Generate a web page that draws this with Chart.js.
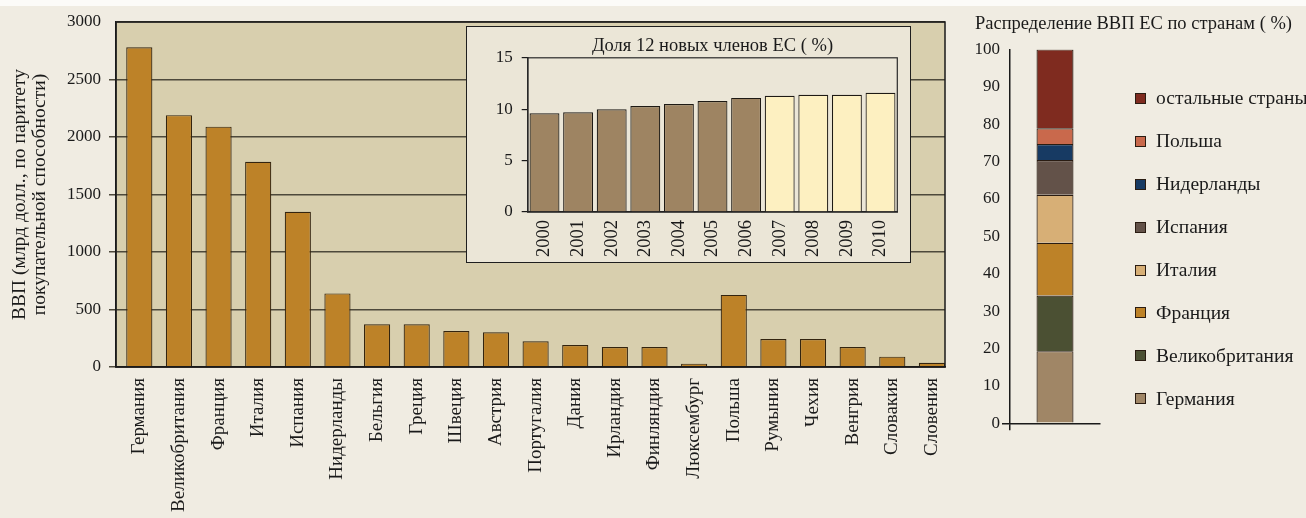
<!DOCTYPE html>
<html>
<head>
<meta charset="utf-8">
<script src="https://cdn.jsdelivr.net/npm/chart.js@4.4.1/dist/chart.umd.min.js"></script>
<style>
  html, body { margin:0; padding:0; width:1306px; height:518px; overflow:hidden; background:#f0ece2; }
  #topband { position:absolute; left:0; top:0; width:1306px; height:6px; background:#fcfbf8; }
  #mainWrap { position:absolute; left:0; top:0; width:960px; height:518px; }
  #insetWrap { position:absolute; left:466px; top:26px; width:443px; height:235px; border:1px solid #1e1e1e; background:#ebe6d7; }
  #shareWrap { position:absolute; left:960px; top:0; width:346px; height:518px; }
  #legend { position:absolute; left:1135px; top:77px; font-family:"Liberation Serif", serif; font-size:19.5px; color:#1a1a1a; }
  .li { height:42.9px; display:flex; align-items:center; white-space:nowrap; }
  .sw { width:9px; height:9px; border:1px solid #2a1c12; margin-right:10px; flex:none; }
</style>
</head>
<body>
<div id="topband"></div>
<div id="mainWrap"><canvas id="mainCanvas" width="960" height="518"></canvas></div>
<div id="insetWrap"><canvas id="insetCanvas" width="443" height="235"></canvas></div>
<div id="shareWrap"><canvas id="shareCanvas" width="346" height="518"></canvas></div>
<div id="legend"></div>
<script>
// ---------- DATA ----------
const countries = ['Германия','Великобритания','Франция','Италия','Испания','Нидерланды','Бельгия','Греция','Швеция','Австрия','Португалия','Дания','Ирландия','Финляндия','Люксембург','Польша','Румыния','Чехия','Венгрия','Словакия','Словения'];
const gdpValues = [2780,2190,2090,1785,1350,640,371,371,313,302,224,191,174,174,29,627,244,244,174,90,37];
const gdpTicks = [0,500,1000,1500,2000,2500,3000];
const gdpAxisTitle = ['ВВП (млрд долл., по паритету', 'покупательной способности)'];

const insetTitle = 'Доля 12 новых членов ЕС ( %)';
const years = ['2000','2001','2002','2003','2004','2005','2006','2007','2008','2009','2010'];
const newMembersShare = [9.6,9.7,10.0,10.3,10.5,10.8,11.1,11.3,11.4,11.4,11.6];
const insetTicks = [0,5,10,15];
const firstForecastYear = '2007';

const shareTitle = 'Распределение ВВП ЕС по странам ( %)';
const shareLabels = ['Германия','Великобритания','Франция','Италия','Испания','Нидерланды','Польша','остальные страны'];
const shareValues = [19.3,14.9,14.1,12.8,9.3,4.3,4.2,21.1];
const shareTicks = [0,10,20,30,40,50,60,70,80,90,100];

// ---------- STYLES ----------
const FONT = '"Liberation Serif", "Times New Roman", serif';
const INK = '#1a1a1a';
const shareColors = ['#a08666','#4b5033','#bd8228','#d7af76','#635249','#173a63','#c9694c','#7f2b1f'];
const plain = v => String(v);

const plotFrame = {
  id: 'plotFrame',
  beforeDraw(chart, args, opts) {
    const a = chart.chartArea, c = chart.ctx;
    if (opts.fill) { c.save(); c.fillStyle = opts.fill; c.fillRect(a.left, a.top, a.right - a.left, a.bottom - a.top); c.restore(); }
  },
  afterDraw(chart, args, opts) {
    const a = chart.chartArea, c = chart.ctx;
    if (opts.stroke) { c.save(); c.strokeStyle = opts.stroke; c.lineWidth = opts.width || 1.5; c.strokeRect(a.left, a.top, a.right - a.left, a.bottom - a.top); c.restore(); }
  }
};

// ---------- MAIN CHART ----------
new Chart(document.getElementById('mainCanvas'), {
  type: 'bar',
  data: {
    datasets: [{
      data: gdpValues.map((v, i) => ({ x: i, y: v })),
      backgroundColor: '#bd8228',
      borderColor: '#33240f',
      borderWidth: 1.2,
      barPercentage: 0.66,
      categoryPercentage: 1
    }]
  },
  options: {
    responsive: false, animation: false,
    layout: { padding: { top: 22, right: 15, left: 0, bottom: 0 } },
    plugins: { legend: { display: false }, tooltip: { enabled: false }, plotFrame: { fill: '#d8cfae', stroke: '#1a1a1a', width: 1.5 } },
    scales: {
      x: {
        type: 'linear', min: -0.588, max: 20.33, offset: false, bounds: 'data',
        afterBuildTicks: ax => { ax.ticks = countries.map((c, i) => ({ value: i })); },
        afterFit: s => { s.height = 151; s.paddingLeft = 0; s.paddingRight = 0; },
        ticks: { callback: v => countries[v], autoSkip: false, minRotation: 90, maxRotation: 90, padding: 3, color: INK, font: { family: FONT, size: 19 } },
        grid: { display: false },
        border: { display: true, color: '#1a1a1a', width: 1.5 }
      },
      y: {
        min: 0, max: 3000,
        afterBuildTicks: ax => { ax.ticks = gdpTicks.map(v => ({ value: v })); },
        afterFit: s => { s.width = 116; },
        ticks: { callback: plain, padding: 8, color: INK, font: { family: FONT, size: 17 } },
        grid: { color: '#4d493b', lineWidth: 1.5, tickLength: 7,
                tickColor: c => (c.tick && c.tick.value === 3000) ? 'rgba(0,0,0,0)' : '#4d493b' },
        border: { display: true, color: '#1a1a1a', width: 1.5 },
        title: { display: true, text: gdpAxisTitle, color: INK, font: { family: FONT, size: 19.5, lineHeight: 1.03 }, padding: { top: 10, bottom: 0 } }
      }
    }
  },
  plugins: [plotFrame]
});

// ---------- INSET CHART ----------
new Chart(document.getElementById('insetCanvas'), {
  type: 'bar',
  data: {
    labels: years,
    datasets: [{
      data: newMembersShare,
      backgroundColor: c => (years[c.dataIndex] >= firstForecastYear ? '#fdf0c1' : '#9e8462'),
      borderColor: '#1e1a14',
      borderWidth: 1.2,
      barPercentage: 0.89,
      categoryPercentage: 1
    }]
  },
  options: {
    responsive: false, animation: false,
    layout: { padding: { top: 0, right: 12.7, left: 0, bottom: 0 } },
    plugins: {
      legend: { display: false }, tooltip: { enabled: false },
      title: { display: true, text: insetTitle, fullSize: false, color: INK, font: { family: FONT, size: 18.5, weight: 'normal', lineHeight: 1.2 }, padding: { top: 8, bottom: 0.6 } },
      plotFrame: { stroke: '#2a2a2a', width: 1.2 }
    },
    scales: {
      x: {
        afterFit: s => { s.height = 50; },
        ticks: { autoSkip: false, minRotation: 90, maxRotation: 90, padding: 0, color: INK, font: { family: FONT, size: 18.5 } },
        grid: { display: false },
        border: { display: true, color: '#1a1a1a', width: 1.5 }
      },
      y: {
        min: 0, max: 15,
        afterBuildTicks: ax => { ax.ticks = insetTicks.map(v => ({ value: v })); },
        afterFit: s => { s.width = 60.7; },
        ticks: { padding: 9, color: INK, font: { family: FONT, size: 17 } },
        grid: { drawOnChartArea: false, tickLength: 6, color: '#1a1a1a', lineWidth: 1.2 },
        border: { display: true, color: '#1a1a1a', width: 1.5 }
      }
    }
  },
  plugins: [plotFrame]
});

// ---------- SHARE CHART ----------
const shareChart = new Chart(document.getElementById('shareCanvas'), {
  type: 'bar',
  data: {
    labels: [''],
    datasets: shareLabels.map((lab, i) => ({
      label: lab,
      data: [shareValues[i]],
      backgroundColor: shareColors[i],
      borderColor: '#2a1c12',
      borderWidth: 1.2,
      barPercentage: 0.411,
      categoryPercentage: 1
    }))
  },
  options: {
    responsive: false, animation: false,
    layout: { padding: { top: 0, right: 0, left: 15, bottom: 87.7 } },
    plugins: {
      legend: { display: false }, tooltip: { enabled: false },
      title: { display: true, text: shareTitle, align: 'start', color: INK, font: { family: FONT, size: 18.5, weight: 'normal', lineHeight: 1.2 }, padding: { top: 12.6, bottom: 14.6 } }
    },
    scales: {
      x: {
        stacked: true,
        ticks: { display: false },
        grid: { drawOnChartArea: false, tickLength: 7, color: '#1a1a1a', lineWidth: 1.5,
                tickColor: c => c.index === 0 ? '#1a1a1a' : 'rgba(0,0,0,0)' },
        border: { display: true, color: '#1a1a1a', width: 1.5 }
      },
      y: {
        stacked: true, min: 0, max: 100,
        afterBuildTicks: ax => { ax.ticks = shareTicks.map(v => ({ value: v })); },
        afterFit: s => { s.width = 35; },
        ticks: { padding: 2, color: INK, font: { family: FONT, size: 17 } },
        grid: { drawOnChartArea: false, tickLength: 8, lineWidth: 1.5,
                tickColor: c => (c.tick && c.tick.value === 0) ? '#1a1a1a' : 'rgba(0,0,0,0)' },
        border: { display: true, color: '#1a1a1a', width: 1.5 }
      },
      legendSpace: {
        position: 'right', display: true,
        afterFit: s => { s.width = 206; },
        ticks: { display: false }, grid: { display: false }, border: { display: false }
      }
    }
  }
});

// ---------- HTML LEGEND (from chart datasets, reversed) ----------
const legendEl = document.getElementById('legend');
shareChart.data.datasets.slice().reverse().forEach(ds => {
  const row = document.createElement('div'); row.className = 'li';
  const sw = document.createElement('span'); sw.className = 'sw'; sw.style.background = ds.backgroundColor;
  const tx = document.createElement('span'); tx.textContent = ds.label;
  row.appendChild(sw); row.appendChild(tx); legendEl.appendChild(row);
});
</script>
</body>
</html>
